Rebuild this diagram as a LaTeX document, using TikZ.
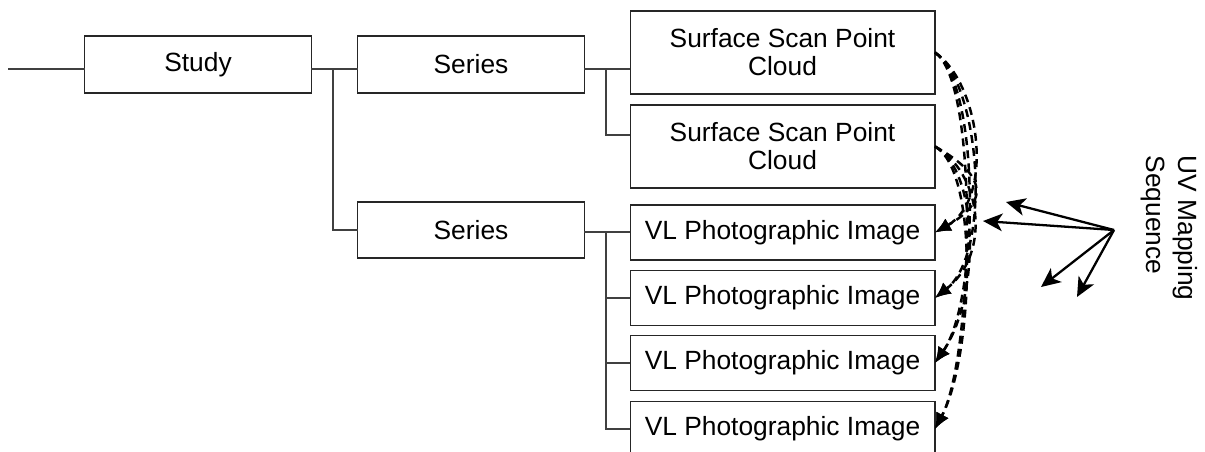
\documentclass[tikz,border=0pt]{standalone}
\usepackage{fontspec}
\setmainfont{Liberation Sans}
\usepackage{tikz}
\usetikzlibrary{arrows.meta}

\tikzset{
  box/.style={draw=black!85,line width=0.6pt,rectangle,outer sep=0pt,inner sep=2pt,
    align=center,font=\fontsize{15}{16}\selectfont},
  widebox/.style={box,minimum width=6.1cm,minimum height=1.1cm},
  tree/.style={draw=black!75,line width=0.6pt},
  uvlink/.style={line width=1.4pt,dash pattern=on 4.5pt off 3pt,>={Latex[length=9pt,width=8pt]}},
  uvpick/.style={line width=1.3pt,>={Stealth[length=11pt,width=10pt,inset=3pt]}}
}

\begin{document}
\begin{tikzpicture}[x=0.02cm,y=-0.02cm]
  \useasboundingbox (0,0) rectangle (1205,451);
  \node[box,minimum width=4.54cm,minimum height=1.14cm] (study) at (198,64.5) {Study};
  \node[box,minimum width=4.54cm,minimum height=1.14cm] (series1) at (471,64.5) {Series};
  \node[box,minimum width=4.54cm,minimum height=1.12cm] (series2) at (471,230) {Series};
  \node[widebox,minimum height=1.66cm] (surf1) at (782.5,52.5) {Surface Scan Point\\Cloud};
  \node[widebox,minimum height=1.66cm] (surf2) at (782.5,146.5) {Surface Scan Point\\Cloud};
  \node[widebox] (vl1) at (782.5,232.5) {VL Photographic Image};
  \node[widebox] (vl2) at (782.5,298) {VL Photographic Image};
  \node[widebox] (vl3) at (782.5,363) {VL Photographic Image};
  \node[widebox] (vl4) at (782.5,429) {VL Photographic Image};
  \node[rotate=-90,align=left,font=\fontsize{15}{18}\selectfont] (uvlabel) at (1169,228) {UV Mapping\\Sequence};

  \coordinate (lead) at (8,69);
  \coordinate (j1) at (333,69);
  \coordinate (j2) at (606,69);
  \coordinate (j2b) at (606,135);
  \coordinate (j3) at (606,232);
  \draw[tree] (lead) -- (study.west |- lead);
  \draw[tree] (study.east |- j1) -- (series1.west |- j1);
  \draw[tree] (j1) |- (series2.west);
  \draw[tree] (series1.east |- j2) -- (surf1.west |- j2);
  \draw[tree] (j2) -- (j2b) -- (surf2.west |- j2b);
  \draw[tree] (series2.east |- j3) -- (vl1.west |- j3);
  \draw[tree] (j3) |- (vl2.west);
  \draw[tree] (j3) |- (vl3.west);
  \draw[tree] (j3) |- (vl4.west);

  \foreach \v/\a/\b in {vl1/60/34,vl2/58/46,vl3/45/65,vl4/38/72} {
    \draw[uvlink,->] (surf1.east) .. controls +(45,30) and +(\a,-\b) .. (\v.east);
    \draw[uvlink,->] (surf2.east) .. controls +(45,25) and +(\a,-\b) .. (\v.east);
  }

  \coordinate (hub) at (1114,230);
  \coordinate (t1) at (1006,202);
  \coordinate (t2) at (983,221);
  \coordinate (t3) at (1041,287);
  \coordinate (t4) at (1077,297);
  \foreach \t in {t1,t2,t3,t4}
    \draw[uvpick,->] (hub) -- (\t);
\end{tikzpicture}
\end{document}
